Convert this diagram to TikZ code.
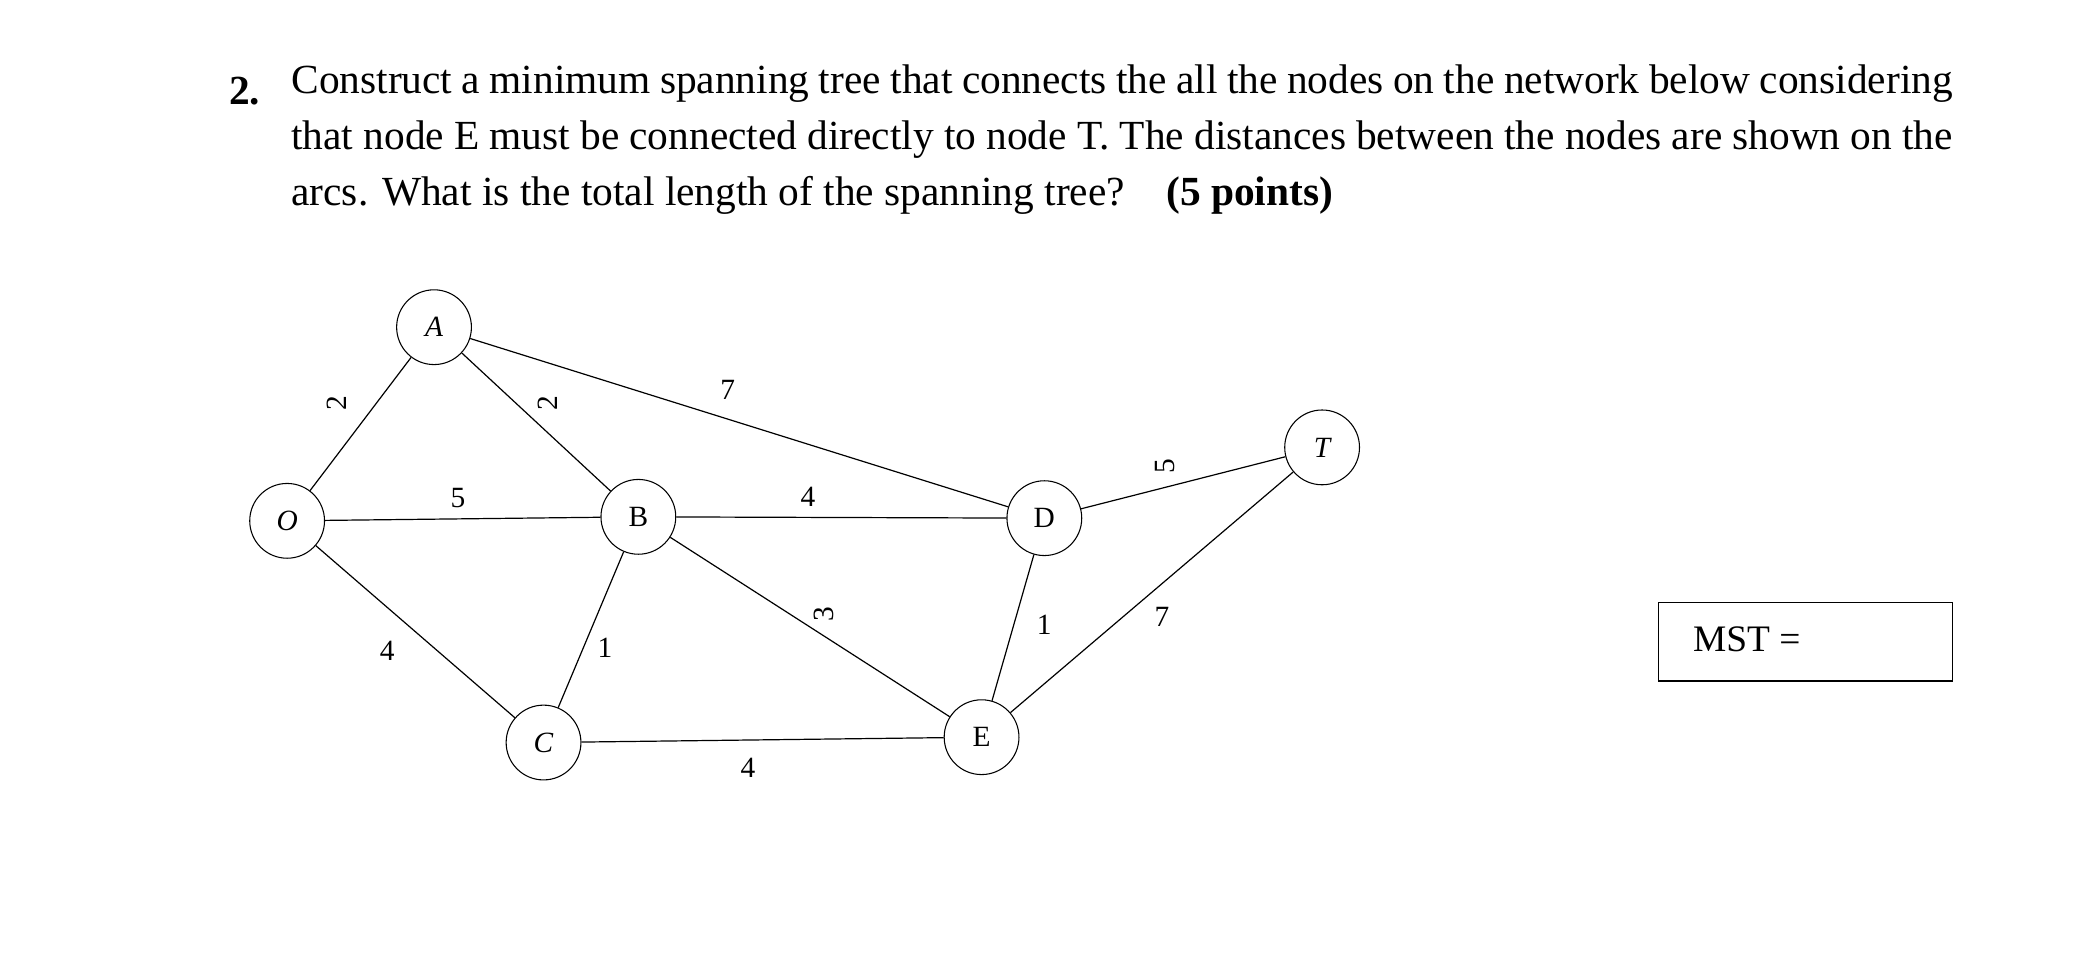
\documentclass[tikz,border=0pt]{standalone}
\usepackage{fontspec}
\setmainfont{Liberation Serif}
\begin{document}
\begin{tikzpicture}[x=1pt,y=-1pt,
  vtx/.style={circle,draw,thick,minimum size=56pt,inner sep=0pt,fill=white,font=\fontsize{22}{24}\selectfont},
  edge/.style={draw,line width=0.9pt},
  wt/.style={font=\fontsize{22}{24}\selectfont}]
\useasboundingbox (0,0) rectangle (1568,731);
\node[anchor=base west,font=\fontsize{31}{42}\selectfont\bfseries] (num) at (168,78) {2.};
\node[anchor=north west,text width=1244pt,align=justify,inner sep=0pt,font=\fontsize{31}{42}\selectfont] (q) at (218,48)
 {Construct a minimum spanning tree that connects the all the nodes on the network below considering that node E must be connected directly to node T. The distances between the nodes are shown on the arcs. What is the total length of the spanning tree?\quad \textbf{(5 points)}};
\node[vtx] (A) at (325,245) {\itshape A};
\node[vtx] (O) at (215,390) {\itshape O};
\node[vtx] (B) at (478,387) {B};
\node[vtx] (D) at (782,388) {D};
\node[vtx] (T) at (990,335) {\itshape T};
\node[vtx] (C) at (407,556) {\itshape C};
\node[vtx] (E) at (735,552) {E};
\begin{scope}[on background layer/.style={}]
\draw[edge] (O)--(A); \draw[edge] (A)--(B); \draw[edge] (A)--(D);
\draw[edge] (O)--(B); \draw[edge] (B)--(D); \draw[edge] (O)--(C);
\draw[edge] (B)--(C); \draw[edge] (B)--(E); \draw[edge] (D)--(E);
\draw[edge] (D)--(T); \draw[edge] (E)--(T); \draw[edge] (C)--(E);
\end{scope}
\node[wt,rotate=90] (w1) at (252,302) {2};
\node[wt,rotate=90] (w2) at (410,302) {2};
\node[wt] (w3) at (545,292) {7};
\node[wt] (w4) at (343,373) {5};
\node[wt] (w5) at (605,372) {4};
\node[wt,rotate=90] (w6) at (872,349) {5};
\node[wt] (w7) at (290,487) {4};
\node[wt] (w8) at (453,485) {1};
\node[wt,rotate=90] (w9) at (617,460) {3};
\node[wt] (w10) at (782,468) {1};
\node[wt] (w11) at (870,462) {7};
\node[wt] (w12) at (560,575) {4};
\draw[line width=0.9pt] (1242,451) rectangle (1462,510);
\node[font=\fontsize{28}{30}\selectfont] (mst) at (1308,479) {MST =};
\end{tikzpicture}
\end{document}
